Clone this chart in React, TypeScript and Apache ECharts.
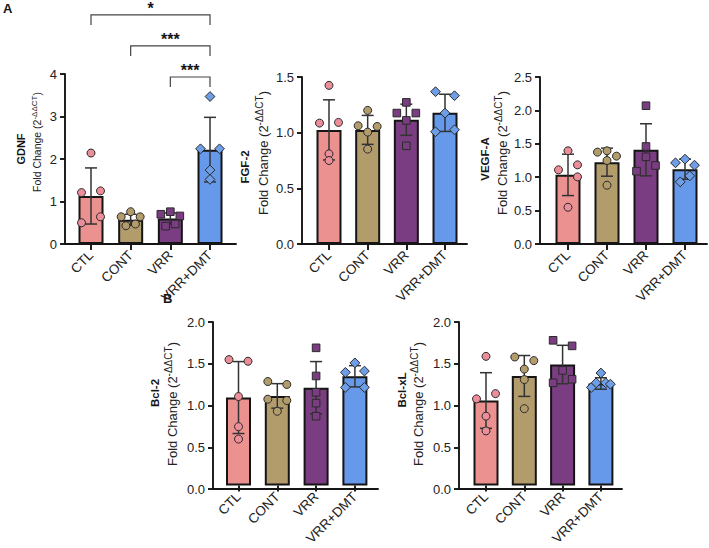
import React, { useEffect, useRef } from "react";
import * as echarts from "echarts";

// Groups shown on every panel
const categories = ["CTL", "CONT", "VRR", "VRR+DMT"];

// Per-group bar means and standard deviations (fold change, 2^-ΔΔCT)
const gdnfMean = [1.13, 0.57, 0.6, 2.22];
const gdnfSd = [0.66, 0.13, 0.13, 0.76];
const gdnfPoints = [
  [2.14, 1.21, 1.25, 0.64, 0.5],
  [0.76, 0.64, 0.64, 0.43, 0.47],
  [0.76, 0.7, 0.66, 0.42, 0.47],
  [3.47, 2.24, 2.24, 1.74, 1.52],
];
const gdnfJitter = [
  [0, -2, 2, 2, -2],
  [0, -2, 2, -1, 1],
  [0, -2, 2, -1, 1],
  [0, -2, 2, 0, 0],
];

const fgfMean = [1.025, 1.025, 1.116, 1.178];
const fgfSd = [0.27, 0.13, 0.14, 0.167];
const fgfPoints = [
  [1.425, 1.086, 1.092, 0.81, 0.75],
  [1.2, 1.062, 1.056, 1.005, 0.852],
  [1.272, 1.176, 1.176, 1.11, 0.882],
  [1.368, 1.332, 1.176, 1.008, 1.026],
];
const fgfJitter = [
  [0, -2, 2, 0, 0],
  [0, -2, 2, 0, 0],
  [0, -2, 2, 0, 0],
  [-2, 2, 0, -2, 2],
];

const vegfMean = [1.035, 1.225, 1.41, 1.12];
const vegfSd = [0.31, 0.21, 0.39, 0.15];
const vegfPoints = [
  [1.395, 1.11, 1.185, 1.005, 0.55],
  [1.375, 1.395, 1.315, 1.25, 0.88],
  [2.07, 1.46, 1.305, 1.175, 1.09],
  [1.27, 1.215, 1.18, 1.02, 0.93],
];
const vegfJitter = [
  [0, -2, 2, 2, 0],
  [-2, 0, 2, 0, 0],
  [0, 0, 0, 2, -2],
  [0, -2, 2, 1, -1],
];

const bcl2Mean = [1.076, 1.096, 1.196, 1.336];
const bcl2Sd = [0.44, 0.15, 0.32, 0.13];
const bcl2Points = [
  [1.54, 1.52, 1.088, 0.72, 0.568],
  [1.272, 1.236, 1.056, 1.04, 0.908],
  [1.684, 1.34, 1.14, 1.008, 0.848],
  [1.5, 1.384, 1.4, 1.2, 1.2],
];
const bcl2Jitter = [
  [-2, 2, 0, 0, 0],
  [-2, 2, -2, 2, 0],
  [0, 0, 0, 0, 0],
  [0, -2, 2, -2, 2],
];

const bclxlMean = [1.04, 1.34, 1.48, 1.248];
const bclxlSd = [0.34, 0.25, 0.235, 0.07];
const bclxlPoints = [
  [1.58, 1.124, 1.06, 0.848, 0.668],
  [1.572, 1.528, 1.424, 1.296, 0.94],
  [1.776, 1.708, 1.408, 1.256, 1.3],
  [1.376, 1.2, 1.256, 1.256, 1.24],
];
const bclxlJitter = [
  [0, 2, -2, 0, 0],
  [-2, 2, 0, 0, 0],
  [-2, 2, 0, -2, 2],
  [0, -2, -1, 1, 2],
];

// GDNF significance comparisons: [from group, to group, bracket height]
const gdnfBrackets = [
  [0, 3, 5.39],
  [1, 3, 4.66],
  [2, 3, 3.93],
];
const gdnfBracketLabels = ["*", "***", "***"];

const FONT = "'Liberation Sans', Arial, Helvetica, sans-serif";
const barColors = ["#EB918F", "#B29C6C", "#7B3D81", "#6799EA"];
const dotColors = ["#EC8E9A", "#B29C6C", "#7B3D81", "#6F9EE8"];
const INK = "#151515";

type Panel = {
  title: string;
  means: number[];
  sds: number[];
  points: number[][];
  jitter: number[][];
  yMax: number;
  interval: number;
  decimals: number;
  axisX: number;
  top: number;
  bottom: number;
  end: number;
  first: number;
  band: number;
  titleX: number;
  titleY: number;
  titleSize: number;
  foldX: number;
  foldY: number;
  foldSize: number;
  brackets?: number[][];
  bracketLabels?: string[];
};

const panels: Panel[] = [
  {
    title: "GDNF", means: gdnfMean, sds: gdnfSd, points: gdnfPoints, jitter: gdnfJitter,
    yMax: 4, interval: 1, decimals: 0,
    axisX: 65, top: 74, bottom: 244, end: 236, first: 91, band: 39.67,
    titleX: 21, titleY: 149, titleSize: 11, foldX: 37, foldY: 142, foldSize: 10.5,
    brackets: gdnfBrackets, bracketLabels: gdnfBracketLabels,
  },
  {
    title: "FGF-2", means: fgfMean, sds: fgfSd, points: fgfPoints, jitter: fgfJitter,
    yMax: 1.5, interval: 0.5, decimals: 1,
    axisX: 302, top: 77, bottom: 244, end: 467, first: 329, band: 38.67,
    titleX: 245, titleY: 167, titleSize: 11.5, foldX: 263, foldY: 153, foldSize: 13,
  },
  {
    title: "VEGF-A", means: vegfMean, sds: vegfSd, points: vegfPoints, jitter: vegfJitter,
    yMax: 2.5, interval: 0.5, decimals: 1,
    axisX: 540, top: 77, bottom: 244, end: 707, first: 568, band: 39,
    titleX: 485, titleY: 159, titleSize: 11.5, foldX: 502, foldY: 153, foldSize: 13,
  },
  {
    title: "Bcl-2", means: bcl2Mean, sds: bcl2Sd, points: bcl2Points, jitter: bcl2Jitter,
    yMax: 2, interval: 0.5, decimals: 1,
    axisX: 213, top: 322, bottom: 489, end: 378, first: 238.5, band: 38.8,
    titleX: 155, titleY: 393, titleSize: 11.5, foldX: 172, foldY: 404, foldSize: 13,
  },
  {
    title: "Bcl-xL", means: bclxlMean, sds: bclxlSd, points: bclxlPoints, jitter: bclxlJitter,
    yMax: 2, interval: 0.5, decimals: 1,
    axisX: 459, top: 322, bottom: 489, end: 622, first: 486, band: 38.3,
    titleX: 402, titleY: 390, titleSize: 11.5, foldX: 418, foldY: 404, foldSize: 13,
  },
];

const JITTER_PX = 4.75;

function buildOption() {
  const grid: any[] = [];
  const xAxis: any[] = [];
  const yAxis: any[] = [];
  const series: any[] = [];
  const graphic: any[] = [
    { type: "text", x: 3, y: 2, style: { text: "A", fontFamily: FONT, fontWeight: "bold", fontSize: 13, fill: INK } },
    { type: "text", x: 163, y: 292, style: { text: "B", fontFamily: FONT, fontWeight: "bold", fontSize: 13, fill: INK } },
  ];

  panels.forEach((p, i) => {
    const outer = 2 * i;
    const inner = 2 * i + 1;
    const height = p.bottom - p.top;

    // frame grid: carries the axis lines and the y tick labels
    grid.push({ left: p.axisX, top: p.top, width: p.end - p.axisX, height });
    // plotting grid: the four category bands
    grid.push({ left: p.first - p.band / 2, top: p.top, width: p.band * 4, height });

    xAxis.push({
      gridIndex: outer, type: "value", min: 0, max: 1,
      axisLine: { show: true, lineStyle: { color: INK, width: 1.9 } },
      axisTick: { show: false }, axisLabel: { show: false }, splitLine: { show: false },
    });
    yAxis.push({
      gridIndex: outer, type: "value", min: 0, max: p.yMax, interval: p.interval,
      axisLine: { show: true, lineStyle: { color: INK, width: 1.9 } },
      axisTick: { show: true, length: 5, lineStyle: { color: INK, width: 1.9 } },
      axisLabel: {
        fontSize: 13, fontFamily: FONT, color: "#222", margin: 8,
        formatter: (v: number) => v.toFixed(p.decimals),
      },
      splitLine: { show: false },
    });
    xAxis.push({
      gridIndex: inner, type: "category", data: categories,
      axisLine: { show: false },
      axisTick: { show: true, alignWithLabel: true, length: 6, lineStyle: { color: INK, width: 1.9 } },
      axisLabel: { rotate: 45, fontSize: 13.5, fontFamily: FONT, color: "#222", margin: 9, interval: 0 },
      splitLine: { show: false },
    });
    yAxis.push({ gridIndex: inner, type: "value", min: 0, max: p.yMax, interval: p.interval, show: false });

    series.push({
      type: "bar", xAxisIndex: inner, yAxisIndex: inner, barWidth: 25,
      data: p.means.map((m, k) => ({
        value: m,
        itemStyle: { color: barColors[k], borderColor: INK, borderWidth: 2 },
      })),
      z: 2,
    });

    series.push({
      type: "custom", xAxisIndex: inner, yAxisIndex: inner, z: 3, clip: false,
      data: p.means.map((m, k) => [k, m, p.sds[k]]),
      encode: { x: 0, y: 1 },
      renderItem: (params: any, api: any) => {
        const k = api.value(0);
        const m = api.value(1);
        const s = api.value(2);
        const hi = api.coord([k, m + s]);
        const lo = api.coord([k, m - s]);
        const cap = 6;
        const st = { stroke: "#333", lineWidth: 1.5 };
        return {
          type: "group",
          children: [
            { type: "line", shape: { x1: hi[0], y1: hi[1], x2: lo[0], y2: lo[1] }, style: st },
            { type: "line", shape: { x1: hi[0] - cap, y1: hi[1], x2: hi[0] + cap, y2: hi[1] }, style: st },
            { type: "line", shape: { x1: lo[0] - cap, y1: lo[1], x2: lo[0] + cap, y2: lo[1] }, style: st },
          ],
        };
      },
    });

    const pts: number[][] = [];
    p.points.forEach((vals, k) => vals.forEach((v, j) => pts.push([k, v, p.jitter[k][j]])));
    series.push({
      type: "custom", xAxisIndex: inner, yAxisIndex: inner, z: 4, clip: false,
      data: pts,
      encode: { x: 0, y: 1 },
      renderItem: (params: any, api: any) => {
        const k = api.value(0);
        const c = api.coord([k, api.value(1)]);
        const cx = c[0] + api.value(2) * JITTER_PX;
        const cy = c[1];
        const style = { fill: dotColors[k], stroke: "#2a2a2a", lineWidth: 1 };
        if (k === 2) {
          return { type: "rect", shape: { x: cx - 3.8, y: cy - 3.8, width: 7.6, height: 7.6 }, style };
        }
        if (k === 3) {
          const d = 4.9;
          return {
            type: "polygon",
            shape: { points: [[cx, cy - d], [cx + d, cy], [cx, cy + d], [cx - d, cy]] },
            style,
          };
        }
        return { type: "circle", shape: { cx, cy, r: 4 }, style };
      },
    });

    if (p.brackets) {
      const labels = p.bracketLabels || [];
      series.push({
        type: "custom", xAxisIndex: inner, yAxisIndex: inner, z: 5, clip: false,
        data: p.brackets,
        encode: { x: [0, 1], y: 2 },
        renderItem: (params: any, api: any) => {
          const a = api.coord([api.value(0), api.value(2)]);
          const b = api.coord([api.value(1), api.value(2)]);
          const leg = 10;
          return {
            type: "group",
            children: [
              {
                type: "polyline",
                shape: { points: [[a[0], a[1] + leg], [a[0], a[1]], [b[0], b[1]], [b[0], b[1] + leg]] },
                style: { stroke: "#444", lineWidth: 1.2, fill: "none" },
              },
              {
                type: "text",
                x: (a[0] + b[0]) / 2,
                y: a[1] - 6.3,
                style: {
                  text: labels[params.dataIndex], fontFamily: FONT, fontWeight: "bold",
                  fontSize: 16, fill: INK, align: "center", verticalAlign: "middle",
                },
              },
            ],
          };
        },
      });
    }

    graphic.push({
      type: "text", x: p.titleX, y: p.titleY, rotation: Math.PI / 2,
      style: {
        text: p.title, fontFamily: FONT, fontWeight: "bold", fontSize: p.titleSize,
        fill: INK, align: "center", verticalAlign: "middle",
      },
    });
    graphic.push({
      type: "text", x: p.foldX, y: p.foldY, rotation: Math.PI / 2,
      style: {
        text: "{n|Fold Change (2}{s|-ΔΔCT}{n|)}",
        fill: "#222", align: "center", verticalAlign: "middle",
        rich: {
          n: { fontSize: p.foldSize, fontFamily: FONT, fill: "#222" },
          s: { fontSize: Math.round(p.foldSize * 0.78), fontFamily: FONT, fill: "#222", padding: [0, 0, Math.round(p.foldSize * 0.55), 0] },
        },
      },
    });
  });

  return {
    animation: false,
    backgroundColor: "#ffffff",
    grid,
    xAxis,
    yAxis,
    series,
    graphic,
  };
}

export default function App() {
  const ref = useRef<HTMLDivElement>(null);
  useEffect(() => {
    if (!ref.current) return;
    const chart = echarts.init(ref.current, null, { renderer: "svg" });
    chart.setOption(buildOption() as any);
    return () => chart.dispose();
  }, []);
  return (
    <div
      ref={ref}
      style={{ position: "fixed", left: 0, top: 0, width: 709, height: 548, background: "#fff" }}
    />
  );
}
